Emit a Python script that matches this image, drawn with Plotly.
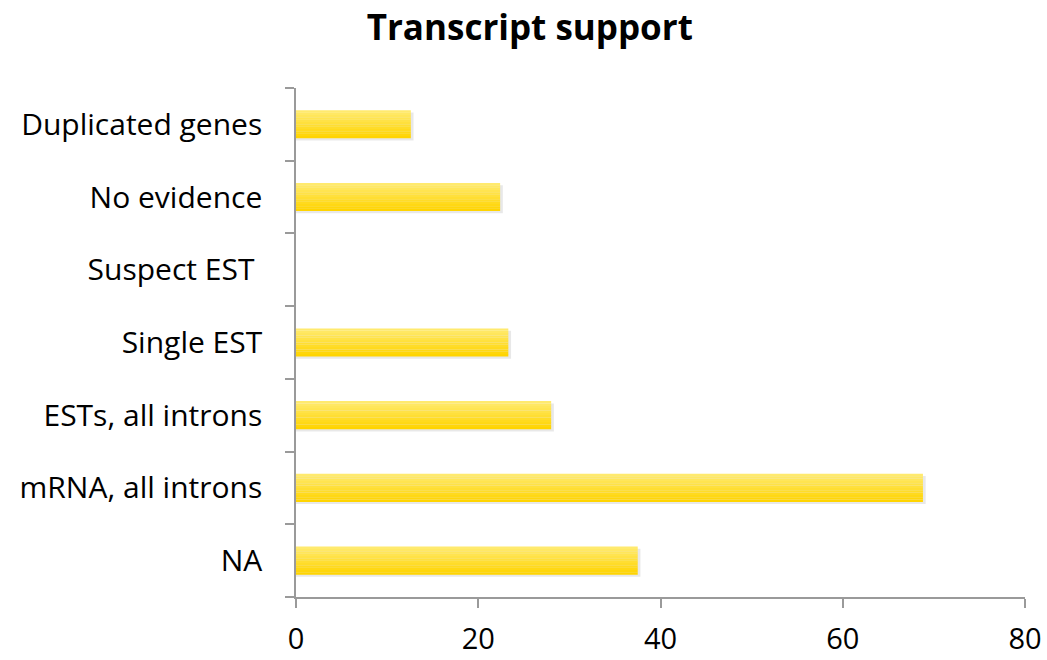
import plotly.graph_objects as go

# ── Data ──────────────────────────────────────────────────────────────────
categories = ["NA", "mRNA, all introns", "ESTs, all introns", "Single EST",
              "Suspect EST\u00a0", "No evidence", "Duplicated genes"]
values = [37.5, 68.8, 28.0, 23.3, 0, 22.4, 12.6]
x_ticks = [0, 20, 40, 60, 80]

# ── Style ─────────────────────────────────────────────────────────────────
FONT = "Open Sans, Noto Sans, sans-serif"
AXIS_COLOR = "#9A9A9A"
BAR_W = 0.385
N_STRIPES = 12
TOP_RGB = (255, 234, 110)
BOT_RGB = (255, 212, 0)

fig = go.Figure()

# soft shadow under each bar
fig.add_trace(go.Bar(
    y=categories, x=[v + 0.3 if v > 0 else 0 for v in values],
    orientation="h", width=BAR_W, offset=-BAR_W / 2 - 0.03,
    marker=dict(color="rgba(0,0,0,0.09)", line=dict(width=0)),
    hoverinfo="skip", showlegend=False,
))

# vertical gradient built from thin stripes (dark at bottom, light at top)
sw = BAR_W / N_STRIPES
for i in range(N_STRIPES):
    t = i / (N_STRIPES - 1)
    c = tuple(round(BOT_RGB[k] + (TOP_RGB[k] - BOT_RGB[k]) * t) for k in range(3))
    fig.add_trace(go.Bar(
        y=categories, x=values,
        orientation="h", width=sw * 1.05, offset=-BAR_W / 2 + i * sw,
        marker=dict(color=f"rgb{c}", line=dict(width=0)),
        hovertemplate="%{y}: %{x}<extra></extra>" if i == 0 else None,
        hoverinfo=None if i == 0 else "skip",
        showlegend=False,
    ))

fig.update_layout(
    width=1047, height=660,
    paper_bgcolor="white", plot_bgcolor="white",
    font=dict(family=FONT, color="#000000", size=24),
    margin=dict(l=296, r=22, t=88, b=63),
    barmode="overlay",
    showlegend=False,
    title=dict(text="<b>Transcript support</b>", x=0.506, xanchor="center",
               y=0.958, yanchor="middle",
               font=dict(family=FONT, size=35, color="#000000")),
    xaxis=dict(
        range=[0, 80], tickvals=x_ticks, showgrid=False, zeroline=False,
        showline=True, linecolor=AXIS_COLOR, linewidth=1.5,
        ticks="outside", ticklen=9, tickcolor=AXIS_COLOR, tickwidth=1.5,
        tickfont=dict(size=29), ticklabelstandoff=6, automargin=False,
    ),
    yaxis=dict(
        type="category", categoryorder="array", categoryarray=categories,
        range=[-0.5, 6.5], showgrid=False, zeroline=False,
        showline=True, linecolor=AXIS_COLOR, linewidth=1.5,
        ticks="outside", ticklen=9, tickcolor=AXIS_COLOR, tickwidth=1.5,
        tickson="boundaries", tickfont=dict(size=30), ticklabelstandoff=26,
        automargin=False,
    ),
)

# the page's default body margin would shift the figure by 8px
fig.write_html("out.html", config={"displayModeBar": False},
               post_script="document.body.style.margin='0';")
